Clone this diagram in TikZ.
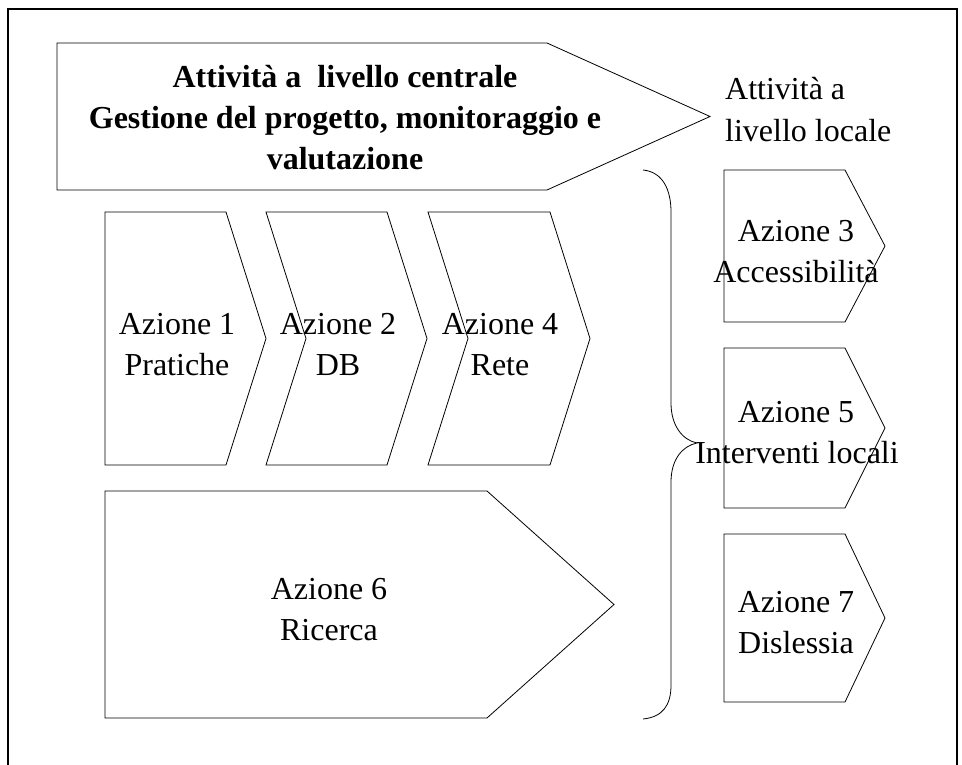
\documentclass[tikz,border=0pt]{standalone}
\usepackage{fontspec}
\setmainfont{Liberation Serif}
\begin{document}
\begin{tikzpicture}[x=1pt,y=-1pt,
  shp/.style={draw=black, line width=0.8pt, fill=white, line join=miter},
  lbl/.style={font=\fontsize{32}{40}\selectfont, inner sep=0pt, anchor=base},
  blbl/.style={lbl, font=\fontsize{32}{40}\selectfont\bfseries},
  llbl/.style={lbl, anchor=base west}]
\useasboundingbox (0,0) rectangle (962,765);
\clip (0,0) rectangle (962,765);
% outer frame
\draw[line width=2.4pt] (8,800) -- (8,9) -- (957,9) -- (957,800);
% top arrow
\draw[shp] (57,43) -- (547,43) -- (710,116.5) -- (547,190) -- (57,190) -- cycle;
\node[blbl] (c1) at (345,88) {Attività a\ \ livello centrale};
\node[blbl] (c2) at (345,129) {Gestione del progetto, monitoraggio e};
\node[blbl] (c3) at (345,170) {valutazione};
\node[llbl] (l1) at (725,100) {Attività a};
\node[llbl] (l2) at (725,142) {livello locale};
% chevron row
\draw[shp] (105,212) -- (226,212) -- (266,338.5) -- (226,465) -- (105,465) -- cycle;
\draw[shp] (266,212) -- (387,212) -- (427,338.5) -- (387,465) -- (266,465) -- (306,338.5) -- cycle;
\draw[shp] (428,212) -- (550,212) -- (590,338.5) -- (550,465) -- (428,465) -- (468,338.5) -- cycle;
\node[lbl] (a1a) at (177,334) {Azione 1};
\node[lbl] (a1b) at (177,375) {Pratiche};
\node[lbl] (a2a) at (338,334) {Azione 2};
\node[lbl] (a2b) at (338,375) {DB};
\node[lbl] (a4a) at (500,334) {Azione 4};
\node[lbl] (a4b) at (500,375) {Rete};
% azione 6
\draw[shp] (105,491) -- (487,491) -- (614,604.5) -- (487,718) -- (105,718) -- cycle;
\node[lbl] (a6a) at (329,599) {Azione 6};
\node[lbl] (a6b) at (329,640) {Ricerca};
% brace
\draw[line width=0.8pt] (643,170) .. controls (663,172) and (671,190) .. (671,212)
  -- (671,403) .. controls (671,425) and (682,440) .. (697,443)
  .. controls (682,446) and (671,460) .. (671,482)
  -- (671,685) .. controls (671,705) and (663,717) .. (643,719);
% right boxes
\draw[shp] (724,170) -- (845,170) -- (885,246) -- (845,322) -- (724,322) -- cycle;
\draw[shp] (724,348) -- (845,348) -- (885,428) -- (845,508) -- (724,508) -- cycle;
\draw[shp] (724,534) -- (845,534) -- (885,618) -- (845,702) -- (724,702) -- cycle;
\node[lbl] (a3a) at (796,241) {Azione 3};
\node[lbl] (a3b) at (796,282) {Accessibilità};
\node[lbl] (a5a) at (796,422) {Azione 5};
\node[lbl] (a5b) at (797,463) {Interventi locali};
\node[lbl] (a7a) at (796,612) {Azione 7};
\node[lbl] (a7b) at (796,653) {Dislessia};
\end{tikzpicture}
\end{document}
